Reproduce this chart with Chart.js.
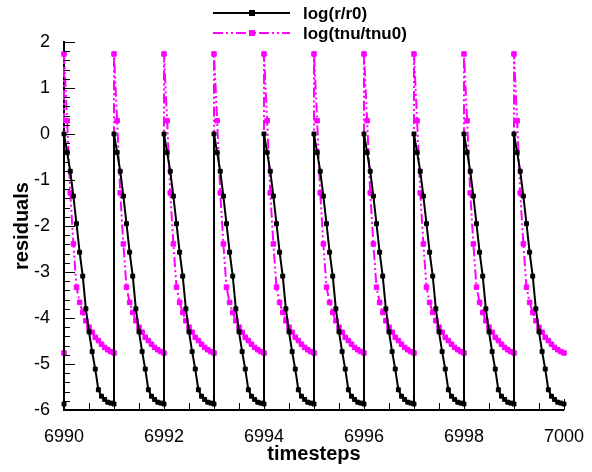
<!DOCTYPE html>
<html>
<head>
<meta charset="utf-8">
<script src="https://cdn.jsdelivr.net/npm/chart.js@4/dist/chart.umd.min.js"></script>
<style>
  html, body { margin: 0; padding: 0; background: #fff; }
  #wrap { width: 592px; height: 472px; }
</style>
</head>
<body>
<div id="wrap"><canvas id="residualChart" width="592" height="472"></canvas></div>
<script>
// timesteps shown on the plot (each one has the same sub-iteration history)
const timesteps = [6990, 6991, 6992, 6993, 6994, 6995, 6996, 6997, 6998, 6999];
// position of every sub-iteration inside a timestep
const subIter = [0, 0.0625, 0.125, 0.1875, 0.25, 0.3125, 0.375, 0.4375, 0.5,
                 0.5625, 0.625, 0.6875, 0.75, 0.8125, 0.875, 0.9375, 1];
// residual histories
const rProfile = [0, -0.40, -0.81, -1.35, -1.95, -2.57, -3.09, -3.80, -4.30,
                  -4.73, -5.11, -5.56, -5.70, -5.77, -5.83, -5.85, -5.87];
const tnuProfile = [1.74, 0.29, -1.28, -2.39, -3.33, -3.66, -3.88, -4.06, -4.20,
                    -4.31, -4.42, -4.49, -4.57, -4.64, -4.69, -4.73, -4.76];
// last value of the timestep before 6990
const rStart = -5.87;
const tnuStart = -4.76;

const xTicks = [6990, 6992, 6994, 6996, 6998, 7000];
const yTicks = [-6, -5, -4, -3, -2, -1, 0, 1, 2];

function buildSeries(start, profile) {
  const pts = [{ x: timesteps[0], y: start }];
  timesteps.forEach(t => {
    profile.forEach((v, k) => pts.push({ x: t + subIter[k], y: v }));
  });
  return pts;
}

const FONT = "'Liberation Sans', Arial, Helvetica, sans-serif";
const TNU_DASH = [10, 3, 2, 3, 2, 3];

// inward tick marks on the left and bottom axes
const tickMarks = {
  id: 'tickMarks',
  afterDraw(chart) {
    const { ctx, chartArea, scales } = chart;
    const xs = scales.x, ys = scales.y;
    ctx.save();
    ctx.strokeStyle = '#000';
    ctx.lineWidth = 1;
    ctx.beginPath();
    for (let v = -6; v <= 2.0001; v += 0.2) {
      const y = Math.round(ys.getPixelForValue(v)) + 0.5;
      const major = Math.abs(v - Math.round(v)) < 1e-6;
      ctx.moveTo(chartArea.left, y);
      ctx.lineTo(chartArea.left + (major ? 11 : 6), y);
    }
    for (let v = 6990; v <= 7000.0001; v += 0.5) {
      const x = Math.round(xs.getPixelForValue(v)) + 0.5;
      const major = Math.abs(v - Math.round(v)) < 1e-6 && Math.round(v) % 2 === 0;
      ctx.moveTo(x, chartArea.bottom);
      ctx.lineTo(x, chartArea.bottom - (major ? 11 : 7));
    }
    ctx.stroke();
    ctx.restore();
  }
};

// Tecplot-like legend at the top
const topLegend = {
  id: 'topLegend',
  afterDraw(chart) {
    const { ctx } = chart;
    const items = chart.data.datasets;
    ctx.save();
    items.forEach((ds, i) => {
      const y = 13 + i * 20;
      ctx.strokeStyle = ds.borderColor;
      ctx.lineWidth = 2;
      ctx.setLineDash(ds.borderDash || []);
      ctx.beginPath();
      ctx.moveTo(213, y);
      ctx.lineTo(290, y);
      ctx.stroke();
      ctx.setLineDash([]);
      ctx.fillStyle = ds.pointBackgroundColor;
      ctx.fillRect(249, y - 3, 6, 6);
      ctx.fillStyle = '#000';
      ctx.font = 'bold 17px ' + FONT;
      ctx.textBaseline = 'middle';
      ctx.textAlign = 'left';
      ctx.fillText(ds.label, 303, y + 1);
    });
    ctx.restore();
  }
};

const ctx = document.getElementById('residualChart').getContext('2d');
new Chart(ctx, {
  type: 'line',
  data: {
    datasets: [
      {
        label: 'log(r/r0)',
        data: buildSeries(rStart, rProfile),
        borderColor: '#000000',
        backgroundColor: '#000000',
        borderWidth: 2,
        pointStyle: 'rect',
        pointRadius: 2.8,
        pointBorderWidth: 1,
        pointBackgroundColor: '#000000',
        pointBorderColor: '#000000',
        tension: 0,
        clip: false
      },
      {
        label: 'log(tnu/tnu0)',
        data: buildSeries(tnuStart, tnuProfile),
        borderColor: '#ff00ff',
        backgroundColor: '#ff00ff',
        borderWidth: 2,
        borderDash: TNU_DASH,
        pointStyle: 'rect',
        pointRadius: 3.2,
        pointBorderWidth: 1,
        pointBackgroundColor: '#ff00ff',
        pointBorderColor: '#ff00ff',
        tension: 0,
        clip: false
      }
    ]
  },
  options: {
    responsive: false,
    animation: false,
    events: [],
    layout: { padding: { top: 42, right: 25, left: 0, bottom: 0 } },
    plugins: {
      legend: { display: false },
      tooltip: { enabled: false }
    },
    scales: {
      x: {
        type: 'linear',
        min: 6990,
        max: 7000,
        afterFit: s => { s.height = 62; },
        afterBuildTicks: s => { s.ticks = xTicks.map(v => ({ value: v })); },
        grid: { display: false },
        border: { display: true, color: '#000', width: 2 },
        ticks: {
          color: '#000',
          font: { family: FONT, size: 18 },
          padding: 8,
          maxRotation: 0,
          callback: v => String(v)
        },
        title: {
          display: true,
          text: 'timesteps',
          color: '#000',
          font: { family: FONT, size: 20, weight: 'bold' },
          padding: { top: 0, bottom: 6 }
        }
      },
      y: {
        type: 'linear',
        min: -6,
        max: 2,
        afterFit: s => { s.width = 64; },
        afterBuildTicks: s => { s.ticks = yTicks.map(v => ({ value: v })); },
        grid: { display: false },
        border: { display: true, color: '#000', width: 2 },
        ticks: {
          color: '#000',
          font: { family: FONT, size: 18 },
          padding: 6,
          callback: v => String(v)
        },
        title: {
          display: true,
          text: 'residuals',
          color: '#000',
          font: { family: FONT, size: 20, weight: 'bold' },
          padding: { top: 10, bottom: 0 }
        }
      }
    }
  },
  plugins: [tickMarks, topLegend]
});
</script>
</body>
</html>
